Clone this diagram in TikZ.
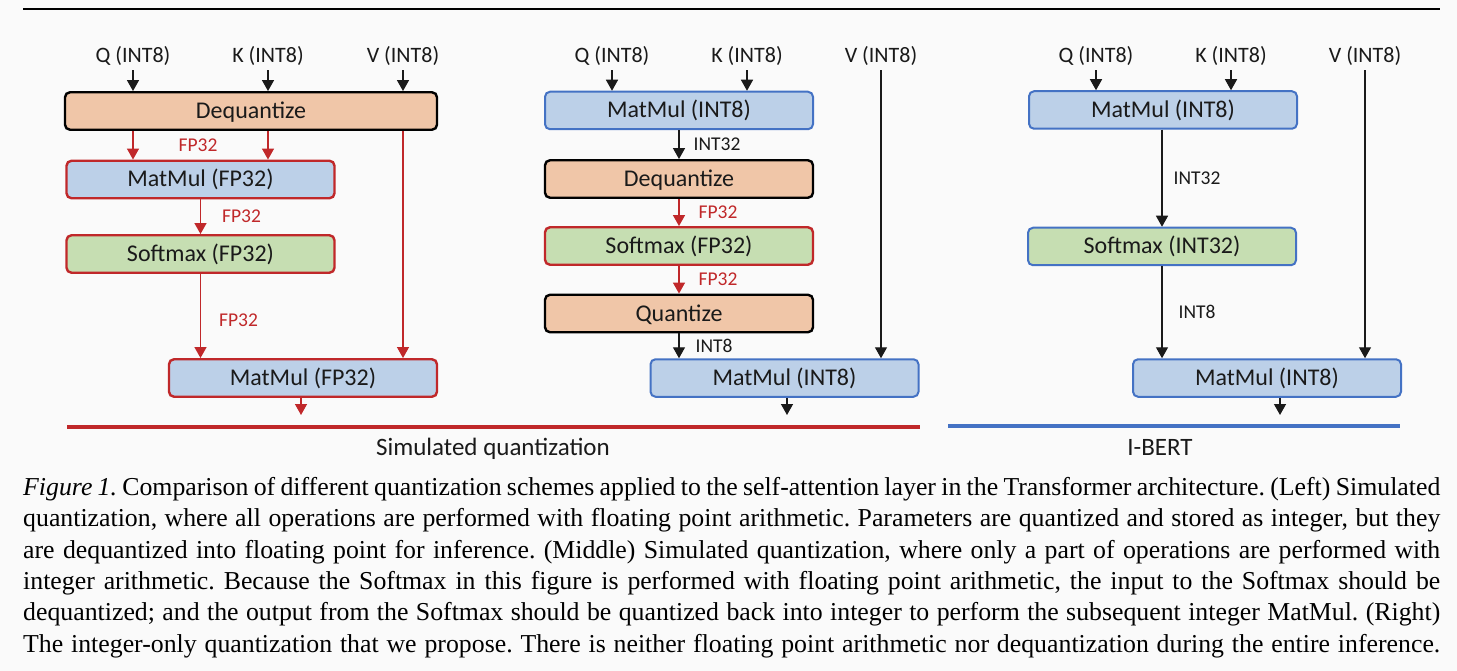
\documentclass[tikz,border=0pt]{standalone}
\usepackage{fontspec}
\setmainfont{Carlito}
\newfontfamily\capfont{Liberation Serif}
\usetikzlibrary{arrows.meta}
\definecolor{bg}{HTML}{FAFAFA}
\definecolor{redc}{HTML}{C0282A}
\definecolor{bluec}{HTML}{4472C4}
\definecolor{peach}{HTML}{F0C6A8}
\definecolor{lblue}{HTML}{BCD0E8}
\definecolor{lgreen}{HTML}{C6DEB2}
\definecolor{ink}{HTML}{1A1A1A}
\begin{document}
\begin{tikzpicture}[x=1pt,y=-1pt,
  box/.style={rectangle, rounded corners=5pt, line width=2.4pt, minimum height=37.5pt, minimum width=268pt, inner sep=0pt, text=ink, font=\fontsize{24}{28}\selectfont, text height=17pt, text depth=2pt},
  blackbox/.style={box, draw=black, fill=peach},
  redblue/.style={box, draw=redc, fill=lblue},
  redgreen/.style={box, draw=redc, fill=lgreen},
  blueblue/.style={box, draw=bluec, fill=lblue, line width=2pt},
  bluegreen/.style={box, draw=bluec, fill=lgreen, line width=2pt},
  inlabel/.style={font=\fontsize{22}{26}\selectfont, text=ink, text height=16pt, text depth=2pt, inner sep=0pt, inner ysep=5pt},
  elabel/.style={font=\fontsize{19.5}{23}\selectfont, text height=13.5pt, text depth=1pt, inner sep=0pt, anchor=west},
  rlabel/.style={elabel, text=redc},
  klabel/.style={elabel, text=ink},
  ptitle/.style={font=\fontsize{25}{30}\selectfont, text=ink, text height=17pt, text depth=1pt, inner sep=0pt},
  arrK/.style={line width=1.4pt, draw=ink, -{Triangle[width=12pt,length=11pt]}},
  arrR/.style={line width=1.4pt, draw=redc, -{Triangle[width=12pt,length=11pt]}},
  ]
\fill[bg] (0,0) rectangle (1457,671);
\useasboundingbox (0,0) rectangle (1457,671);
% top rule
\draw[line width=2.2pt, black] (23,9) -- (1440,9);

% ---------- Left panel ----------
\node[inlabel] (qL) at (133,56) {Q (INT8)};
\node[inlabel] (kL) at (268,56) {K (INT8)};
\node[inlabel] (vL) at (403,56) {V (INT8)};
\node[blackbox, minimum width=372pt] (deqL) at (251,111) {Dequantize};
\node[redblue] (mmL1) at (200.5,179.5) {MatMul (FP32)};
\node[redgreen] (smL) at (200.5,254) {Softmax (FP32)};
\node[redblue] (mmL2) at (303,378) {MatMul (FP32)};
\coordinate (outL) at (301,415);
\draw[arrK] (qL.south) -- (qL.south |- deqL.north);
\draw[arrK] (kL.south) -- (kL.south |- deqL.north);
\draw[arrK] (vL.south) -- (vL.south |- deqL.north);
\draw[arrR] (deqL.south -| qL) -- node[rlabel, xshift=45pt]{FP32} (mmL1.north -| qL);
\draw[arrR] (deqL.south -| kL) -- (mmL1.north -| kL);
\draw[arrR] (mmL1) -- node[rlabel, xshift=21pt]{FP32} (smL);
\draw[arrR] (smL.south) -- node[rlabel, pos=0.55, xshift=18pt]{FP32} (smL.south |- mmL2.north);
\draw[line width=1.2pt, draw=redc, -{Triangle[width=12pt,length=11pt]}] (deqL.south -| vL) -- (mmL2.north -| vL);
\draw[arrR] (mmL2.south -| outL) -- (outL);

% ---------- Middle panel ----------
\node[inlabel] (qM) at (612,56) {Q (INT8)};
\node[inlabel] (kM) at (747,56) {K (INT8)};
\node[inlabel] (vM) at (881,56) {V (INT8)};
\node[blueblue] (mmM1) at (679,110.5) {MatMul (INT8)};
\node[blackbox] (deqM) at (679,179) {Dequantize};
\node[redgreen] (smM) at (679,246) {Softmax (FP32)};
\node[blackbox] (qntM) at (679,313.5) {Quantize};
\node[blueblue] (mmM2) at (784.5,378) {MatMul (INT8)};
\coordinate (outM) at (787,415);
\draw[arrK] (qM.south) -- (qM.south |- mmM1.north);
\draw[arrK] (kM.south) -- (kM.south |- mmM1.north);
\draw[arrK] (mmM1) -- node[klabel, xshift=14pt]{INT32} (deqM);
\draw[arrR] (deqM) -- node[rlabel, xshift=19pt]{FP32} (smM);
\draw[arrR] (smM) -- node[rlabel, xshift=19pt]{FP32} (qntM);
\draw[arrK] (qntM.south) -- node[klabel, xshift=16pt]{INT8} (qntM.south |- mmM2.north);
\draw[arrK] (vM.south) -- (vM.south |- mmM2.north);
\draw[arrK] (mmM2.south -| outM) -- (outM);

% ---------- Right panel ----------
\node[inlabel] (qR) at (1096,56) {Q (INT8)};
\node[inlabel] (kR) at (1231,56) {K (INT8)};
\node[inlabel] (vR) at (1365,56) {V (INT8)};
\node[blueblue] (mmR1) at (1163,110) {MatMul (INT8)};
\node[bluegreen] (smR) at (1162,246.5) {Softmax (INT32)};
\node[blueblue] (mmR2) at (1267,378) {MatMul (INT8)};
\coordinate (outR) at (1280,415);
\draw[arrK] (qR.south) -- (qR.south |- mmR1.north);
\draw[arrK] (kR.south) -- (kR.south |- mmR1.north);
\draw[arrK] (mmR1.south -| smR) -- node[klabel, xshift=11pt]{INT32} (smR.north);
\draw[arrK] (smR.south) -- node[klabel, xshift=16pt]{INT8} (smR.south |- mmR2.north);
\draw[arrK] (vR.south) -- (vR.south |- mmR2.north);
\draw[arrK] (mmR2.south -| outR) -- (outR);

% ---------- group rules and titles ----------
\draw[redc, line width=4pt] (67,427) -- (920,427);
\draw[bluec, line width=4pt] (948,426) -- (1400,426);
\node[ptitle] (tSim) at (493,447) {Simulated quantization};
\node[ptitle] (tIB) at (1160,447) {I-BERT};

% ---------- caption ----------
\node[anchor=north west, inner sep=0pt, text width=1417pt, align=justify, text=black,
      font=\capfont\fontsize{25.8}{31.4}\selectfont\frenchspacing] (cap) at (23,477)
{\textit{Figure 1.} Comparison of different quantization schemes applied to the self-attention layer in the Transformer architecture. (Left) Simulated\linebreak
quantization, where all operations are performed with floating point arithmetic. Parameters are quantized and stored as integer, but they\linebreak
are dequantized into floating point for inference. (Middle) Simulated quantization, where only a part of operations are performed with\linebreak
integer arithmetic. Because the Softmax in this figure is performed with floating point arithmetic, the input to the Softmax should be\linebreak
dequantized; and the output from the Softmax should be quantized back into integer to perform the subsequent integer MatMul. (Right)\linebreak
The integer-only quantization that we propose. There is neither floating point arithmetic nor dequantization during the entire inference.\linebreak};
\end{tikzpicture}
\end{document}
